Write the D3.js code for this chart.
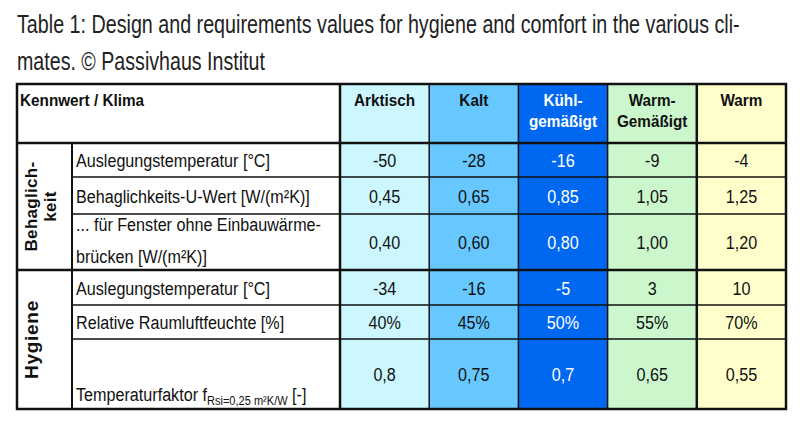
<!DOCTYPE html>
<html>
<head>
<meta charset="utf-8">
<script src="https://cdn.jsdelivr.net/npm/d3@7"></script>
<style>
  body { margin: 0; background: #fff; }
  text { font-family: "Liberation Sans", Arial, sans-serif; }
</style>
</head>
<body>
<svg id="tbl" width="800" height="436"></svg>
<script>
/** Table data **/
var titleLines = ["Table 1: Design and requirements values for hygiene and comfort in the various cli-",
                  "mates. \u00A9 Passivhaus Institut"];
var cornerLabel = "Kennwert / Klima";
var climates = [["Arktisch"], ["Kalt"], ["K\u00FChl-", "gem\u00E4\u00DFigt"], ["Warm-", "Gem\u00E4\u00DFigt"], ["Warm"]];
var groups = [["Behaglich-", "keit"], ["Hygiene"]];
var groupRows = [[0, 2], [3, 5]];          // first / last row of each group
var rowLabels = [
    ["Auslegungstemperatur [\u00B0C]"],
    ["Behaglichkeits-U-Wert [W/(m\u00B2K)]"],
    ["... f\u00FCr Fenster ohne Einbauw\u00E4rme-", "br\u00FCcken [W/(m\u00B2K)]"],
    ["Auslegungstemperatur [\u00B0C]"],
    ["Relative Raumluftfeuchte [%]"],
    ["Temperaturfaktor f"]
];
var subLabel = "Rsi=0,25 m\u00B2K/W";
var arktisch = ["-50", "0,45", "0,40", "-34", "40%", "0,8"];
var kalt     = ["-28", "0,65", "0,60", "-16", "45%", "0,75"];
var kuehl    = ["-16", "0,85", "0,80", "-5", "50%", "0,7"];
var warmGem  = ["-9", "1,05", "1,00", "3", "55%", "0,65"];
var warm     = ["-4", "1,25", "1,20", "10", "70%", "0,55"];


/** Layout **/
var svg = d3.select("#tbl");
var tbl_left = 17, tbl_right = 786;
var grp_right = 72, lab_right = 340;
var head_top = 84, head_bot = 143;
var rowEdges = [143, 177, 214, 270, 305, 339, 409];
var narrow = 0.85;                          // fake a condensed face

var col_fill  = ["#CCF7FF", "#66C8FF", "#0068F0", "#CCF7CC", "#FFFFCC"];
var col_text  = ["#111", "#111", "#FFF", "#111", "#111"];
var line_col  = "#111";

var columns = [arktisch, kalt, kuehl, warmGem, warm];

var xScale = d3.scaleBand()
    .domain(d3.range(climates.length))
    .range([lab_right, tbl_right])
    .padding(0);

// place a squeezed text at x,y
function squeeze(sel, x, y, sx) {
    return sel.attr("transform", "translate(" + x + "," + y + ") scale(" + sx + ",1)");
}

// Title: squeezed so each line ends where the reference does
var titleEnds = [740, 265];
titleLines.forEach(function(line, i) {
    var t = svg.append("text")
        .style("font-size", "25px")
        .style("fill", "#222")
        .text(line);
    var w = t.node().getComputedTextLength();
    squeeze(t, 17, 33 + i * 37, (titleEnds[i] - 17) / w);
});

// Column backgrounds
svg.selectAll("rect.colbg")
    .data(col_fill)
    .enter().append("rect")
    .attr("x", function(d, i) { return xScale(i); })
    .attr("y", head_top)
    .attr("width", xScale.bandwidth())
    .attr("height", rowEdges[rowEdges.length - 1] - head_top)
    .style("fill", function(d) { return d; });

// Header texts
squeeze(svg.append("text"), 20, 106, 0.9)
    .style("font-size", "17px").style("font-weight", "bold").style("fill", "#111")
    .text(cornerLabel);

climates.forEach(function(lines, i) {
    squeeze(svg.append("text"), xScale(i) + xScale.bandwidth() / 2, 106, 0.9)
        .attr("text-anchor", "middle")
        .style("font-size", "17px").style("font-weight", "bold")
        .style("fill", col_text[i])
        .selectAll("tspan")
        .data(lines)
        .enter().append("tspan")
        .attr("x", 0)
        .attr("dy", function(d, k) { return k === 0 ? 0 : 21; })
        .text(function(d) { return d; });
});

// Row labels
rowLabels.forEach(function(lines, r) {
    var top = rowEdges[r], bot = rowEdges[r + 1];
    var n = lines.length;
    var y0;
    if (r === 5) y0 = bot - 8;
    else y0 = (top + bot) / 2 + 7 - (n - 1) * 18;
    var t = squeeze(svg.append("text"), 76, y0, narrow)
        .style("font-size", "19px").style("fill", "#111");
    lines.forEach(function(l, k) {
        t.append("tspan").attr("x", 0).attr("dy", k === 0 ? 0 : 32).text(l);
    });
    if (r === 5) {
        t.append("tspan").attr("dy", 4).style("font-size", "13px").text(subLabel);
        t.append("tspan").attr("dy", -4).text(" [-]");
    }
});

// Values
columns.forEach(function(vals, c) {
    svg.selectAll("text.v" + c)
        .data(vals)
        .enter().append("text")
        .attr("class", "v" + c)
        .attr("transform", function(d, r) {
            return "translate(" + (xScale(c) + xScale.bandwidth() / 2) + "," +
                ((rowEdges[r] + rowEdges[r + 1]) / 2 + 7) + ") scale(" + narrow + ",1)";
        })
        .attr("text-anchor", "middle")
        .style("font-size", "19px")
        .style("fill", col_text[c])
        .text(function(d) { return d; });
});

// Group labels (rotated)
groups.forEach(function(lines, g) {
    var y_mid = (rowEdges[groupRows[g][0]] + rowEdges[groupRows[g][1] + 1]) / 2;
    var t = svg.append("text")
        .attr("transform", "translate(0," + y_mid + ") rotate(-90)")
        .attr("text-anchor", "middle")
        .style("font-size", g === 0 ? "17px" : "19px")
        .style("letter-spacing", g === 0 ? "0.3px" : "0.7px")
        .style("font-weight", "bold").style("fill", "#111");
    lines.forEach(function(l, k) {
        t.append("tspan").attr("x", 0).attr("y", (g === 0 ? 37 : 38) + k * 19).text(l);
    });
});

// Grid lines
function hline(y, x1, x2, w) {
    svg.append("line").attr("x1", x1).attr("x2", x2).attr("y1", y).attr("y2", y)
        .style("stroke", line_col).style("stroke-width", w);
}
function vline(x, y1, y2, w) {
    svg.append("line").attr("x1", x).attr("x2", x).attr("y1", y1).attr("y2", y2)
        .style("stroke", line_col).style("stroke-width", w);
}

[1, 2, 4, 5].forEach(function(r) { hline(rowEdges[r], grp_right, tbl_right, 1.5); });
hline(rowEdges[3], tbl_left, tbl_right, 2.5);
hline(head_bot, tbl_left, tbl_right, 2.5);

d3.range(1, climates.length).forEach(function(i) {
    vline(xScale(i), head_top, rowEdges[6], i === 4 ? 2.5 : 1.5);
});
vline(lab_right, head_top, rowEdges[6], 2.5);
vline(grp_right, head_bot, rowEdges[6], 2);

svg.append("rect")
    .attr("x", tbl_left).attr("y", head_top)
    .attr("width", tbl_right - tbl_left)
    .attr("height", rowEdges[6] - head_top)
    .style("fill", "none").style("stroke", line_col).style("stroke-width", 2.5);
</script>
</body>
</html>
